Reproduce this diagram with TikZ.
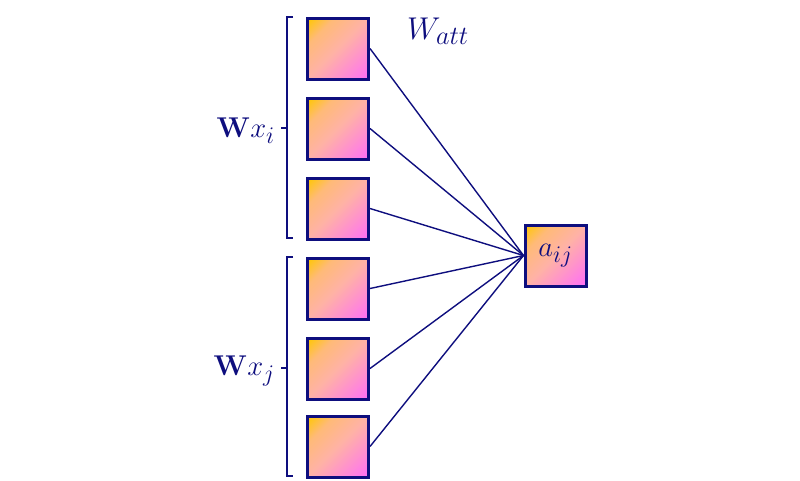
\documentclass[tikz,border=0pt]{standalone}
\usetikzlibrary{positioning}
\definecolor{navy}{HTML}{0E0E7E}
\definecolor{cyel}{HTML}{FFC60A}
\definecolor{corg}{HTML}{FFBA78}
\definecolor{cpeach}{HTML}{FFB2A6}
\definecolor{cpink}{HTML}{FF74F0}
\pgfdeclareverticalshading{boxshade}{100bp}{color(0bp)=(cpink); color(18bp)=(cpink); color(50bp)=(cpeach); color(70bp)=(corg); color(84bp)=(cyel); color(100bp)=(cyel)}
\tikzset{
  cell/.style={draw=navy, line width=3pt, minimum size=61pt, inner sep=0pt, shading=boxshade, shading angle=45},
  wire/.style={draw=navy, line width=1.4pt},
  brk/.style={draw=navy, line width=1.8pt},
  lbl/.style={text=navy, font=\Huge, scale=1.15, inner sep=0pt}
}
\begin{document}
\begin{tikzpicture}[x=1pt,y=-1pt]
\useasboundingbox (0,0) rectangle (800,480);
\node[cell] (b1) at (338,48.5) {};
\node[cell] (b2) at (338,128.5) {};
\node[cell] (b3) at (338,208.5) {};
\node[cell] (b4) at (338,288.5) {};
\node[cell] (b5) at (338,368.5) {};
\node[cell] (b6) at (338,446.5) {};
\node[cell] (out) at (555.5,255.5) {};
\node[lbl] (aij) at (out.center) {$a_{ij}$};
\foreach \i in {1,...,6} \draw[wire] (b\i.east) -- (out.west);
\node[lbl, scale=1.1] (watt) at (438,31) {$W_{att}$};
\node[lbl, anchor=east] (wxi) at (275,131) {$\mathbf{W}x_i$};
\node[lbl, anchor=east] (wxj) at (275,371) {$\mathbf{W}x_j$};
\draw[brk] (293,17) -- (287,17) -- (287,238) -- (293,238);
\draw[brk] (287,128) -- (281,128);
\draw[brk] (293,257) -- (287,257) -- (287,476) -- (293,476);
\draw[brk] (287,368) -- (281,368);
\end{tikzpicture}
\end{document}
